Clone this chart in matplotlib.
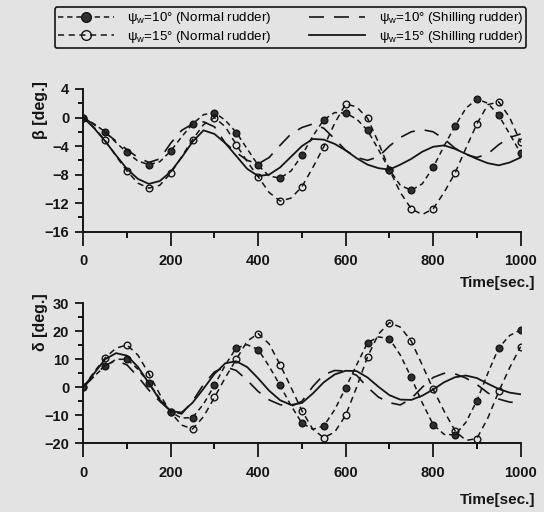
import matplotlib
matplotlib.use("Agg")
import matplotlib.pyplot as plt
from matplotlib.lines import Line2D
from matplotlib.ticker import MultipleLocator
import numpy as np

plt.rcParams['font.family'] = ['Liberation Sans', 'DejaVu Sans']

# time grid [sec.]
time = np.arange(0, 1001, 25)

# drift angle beta [deg.]
beta_normal10 = [0, -0.9, -2.0, -3.5, -4.9, -6.1, -6.6, -6.2, -4.7, -2.7, -0.9, 0.4, 0.7, -0.4,
                 -2.1, -4.4, -6.7, -8.2, -8.5, -7.5, -5.3, -2.6, -0.3, 0.7, 0.6, -0.2, -1.8,
                 -4.5, -7.3, -9.5, -10.2, -9.3, -7.0, -4.0, -1.2, 1.3, 2.6, 2.0, 0.3, -2.3, -5.0]
beta_normal15 = [0, -1.4, -3.2, -5.4, -7.5, -9.2, -9.9, -9.5, -7.8, -5.5, -3.1, -1.0, 0.0, -1.3,
                 -3.8, -6.2, -8.3, -10.5, -11.7, -11.3, -9.7, -7.0, -4.1, -0.8, 1.9, 1.5, -0.1,
                 -3.5, -7.3, -10.5, -12.8, -13.6, -12.8, -10.5, -7.8, -4.3, -0.9, 1.8, 2.2, 0.0, -3.5]
beta_shilling10 = [0, -1.0, -2.1, -3.3, -4.5, -5.6, -6.3, -5.8, -3.6, -1.8, -0.9, -0.6, -1.3, -3.6,
                   -4.9, -6.0, -6.5, -5.6, -3.9, -2.3, -1.4, -0.9, -1.5, -3.0, -4.6, -5.6, -6.0,
                   -5.5, -4.0, -2.8, -2.0, -1.7, -2.0, -3.0, -4.3, -5.2, -5.6, -5.1, -3.8, -2.8, -2.3]
beta_shilling15 = [0, -1.5, -3.3, -5.3, -7.2, -8.6, -9.3, -8.9, -7.6, -5.6, -3.4, -1.8, -2.3, -3.6,
                   -5.4, -7.2, -8.2, -8.0, -7.0, -5.5, -4.0, -3.0, -3.1, -3.7, -4.6, -5.7, -6.6,
                   -7.1, -7.3, -6.6, -5.8, -4.8, -4.1, -3.9, -4.4, -5.1, -5.8, -6.4, -6.7, -6.3, -5.6]

# rudder angle delta [deg.]
delta_normal10 = [0, 4.0, 7.5, 10.0, 10.0, 6.5, 1.5, -4.0, -8.9, -11.0, -10.8, -6.0, 0.7, 8.0,
                  14.1, 15.2, 13.5, 7.5, 0.7, -6.5, -12.8, -15.0, -13.8, -8.0, -0.2, 8.0, 15.9,
                  18.0, 17.4, 11.5, 3.5, -5.5, -13.3, -16.8, -17.0, -12.5, -4.8, 5.0, 14.1, 18.5, 20.5]
delta_normal15 = [0, 5.5, 10.5, 14.0, 15.1, 11.5, 4.9, -2.5, -9.0, -13.5, -14.9, -10.5, -3.6, 3.5,
                  10.0, 16.5, 19.2, 15.5, 8.1, 0.0, -8.4, -15.0, -18.0, -16.0, -10.0, 0.0, 10.9,
                  19.0, 23.1, 21.5, 16.5, 8.0, -0.7, -8.5, -15.5, -19.0, -18.3, -11.0, -1.5, 7.0, 14.5]
delta_shilling10 = [0, 4.0, 7.8, 9.6, 8.0, 3.8, -1.0, -5.0, -8.5, -9.5, -5.0, 1.0, 5.5, 7.3,
                    6.0, 2.5, -1.5, -4.5, -6.2, -6.8, -5.0, 0.3, 4.5, 6.0, 5.8, 4.3, 0.0,
                    -3.5, -5.5, -6.3, -4.0, 0.0, 3.5, 5.0, 4.8, 3.3, 1.0, -2.0, -4.2, -5.3, -5.5]
delta_shilling15 = [0, 5.0, 10.0, 12.2, 11.3, 7.3, 1.5, -4.5, -8.5, -9.0, -5.5, -0.5, 4.8, 8.6,
                    9.3, 7.2, 3.2, -1.2, -4.6, -6.3, -5.6, -2.2, 1.8, 4.6, 5.9, 5.8, 3.5,
                    0.2, -2.8, -4.4, -4.5, -3.0, -0.8, 1.8, 3.6, 4.2, 3.3, 1.3, -0.6, -1.9, -2.5]

labels = ["ψ$_\\mathregular{w}$=10° (Normal rudder)", "ψ$_\\mathregular{w}$=15° (Normal rudder)",
          "ψ$_\\mathregular{w}$=10° (Shilling rudder)", "ψ$_\\mathregular{w}$=15° (Shilling rudder)"]

bg = "#e3e3e3"
ink = "#151515"

n10_style = dict(color=ink, lw=1.1, dashes=(3.5, 2.5), marker="o", markersize=4.8,
                 markerfacecolor="#303030", markeredgecolor=ink, markevery=2)
n15_style = dict(color=ink, lw=1.1, dashes=(4, 3), marker="o", markersize=4.8,
                 markerfacecolor="none", markeredgecolor=ink, markevery=2)
s10_style = dict(color=ink, lw=1.2, dashes=(9, 6))
s15_style = dict(color=ink, lw=1.3)


def style_axis(ax, ylim, ymajor, yminor, ylabel, label_y):
    ax.set_facecolor("none")
    ax.set_xlim(0, 1000)
    ax.set_ylim(*ylim)
    for side in ["top", "right"]:
        ax.spines[side].set_visible(False)
    for side in ["left", "bottom"]:
        ax.spines[side].set_linewidth(1.4)
        ax.spines[side].set_color(ink)
    ax.xaxis.set_major_locator(MultipleLocator(200))
    ax.xaxis.set_minor_locator(MultipleLocator(100))
    ax.yaxis.set_major_locator(MultipleLocator(ymajor))
    ax.yaxis.set_minor_locator(MultipleLocator(yminor))
    ax.tick_params(axis="x", which="major", length=10, width=1.3, pad=6, labelsize=10.5, colors=ink)
    ax.tick_params(axis="x", which="minor", length=4.5, width=1.3)
    ax.tick_params(axis="y", which="major", length=6, width=1.3, pad=4, labelsize=10.5, colors=ink)
    ax.tick_params(axis="y", which="minor", length=3.5, width=1.3)
    for lab in ax.get_xticklabels() + ax.get_yticklabels():
        lab.set_fontweight("bold")
    fig.text(40 / 544, label_y, ylabel, rotation=90, ha="center", va="center",
             fontsize=11.5, fontweight="bold", color=ink)


fig = plt.figure(figsize=(5.44, 5.12), dpi=100, facecolor=bg)
ax1 = fig.add_axes([0.153, 0.5475, 0.804, 0.2787])
ax2 = fig.add_axes([0.153, 0.1342, 0.804, 0.2734])

ax1.plot(time, beta_normal10, **n10_style)
ax1.plot(time, beta_normal15, **n15_style)
ax1.plot(time, beta_shilling10, **s10_style)
ax1.plot(time, beta_shilling15, **s15_style)
style_axis(ax1, (-16, 4), 4, 2, "β [deg.]", 1 - 110 / 512)

ax2.plot(time, delta_normal10, **n10_style)
ax2.plot(time, delta_normal15, **n15_style)
ax2.plot(time, delta_shilling10, **s10_style)
ax2.plot(time, delta_shilling15, **s15_style)
style_axis(ax2, (-20, 30), 10, 5, "δ [deg.]", 1 - 322 / 512)

fig.text(535 / 544, 1 - 283 / 512, "Time[sec.]", ha="right", va="center",
         fontsize=11, fontweight="bold", color=ink)
fig.text(535 / 544, 1 - 500 / 512, "Time[sec.]", ha="right", va="center",
         fontsize=11, fontweight="bold", color=ink)

handles = [
    Line2D([], [], color=ink, lw=1.1, dashes=(3.5, 2.5), marker="o", markersize=7,
           markerfacecolor="#303030", markeredgecolor=ink),
    Line2D([], [], color=ink, lw=1.1, dashes=(4, 3), marker="o", markersize=7,
           markerfacecolor="none", markeredgecolor=ink),
    Line2D([], [], **s10_style),
    Line2D([], [], **s15_style),
]
leg = fig.legend(handles, labels, ncol=2, loc="center", mode="expand",
                 bbox_to_anchor=(48 / 544, 1 - 45 / 512, 485 / 544, 35 / 512),
                 fontsize=9.6, handlelength=4.2, handletextpad=1.0, columnspacing=0.4,
                 labelspacing=0.2, borderpad=0.25, numpoints=1, fancybox=True,
                 facecolor=bg, edgecolor=ink, framealpha=1)
leg.get_frame().set_linewidth(1.2)

fig.savefig("out.png", dpi=100, facecolor=bg)
